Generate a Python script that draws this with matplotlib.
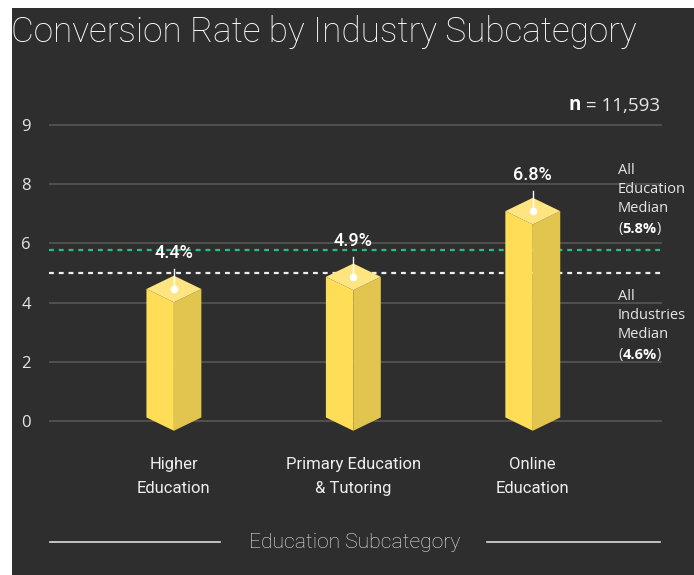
import matplotlib.pyplot as plt
from matplotlib.patches import Polygon, Rectangle
from matplotlib.lines import Line2D

# data
categories = ["Higher\nEducation", "Primary Education\n& Tutoring", "Online\nEducation"]
bar_heights = [4.46, 4.87, 7.09]          # drawn heights (as they appear)
bar_labels = ["4.4%", "4.9%", "6.8%"]
edu_median_pos = 5.78
ind_median_pos = 5.0
edu_median_label = "5.8%"
ind_median_label = "4.6%"
y_ticks = [0, 2, 4, 6, 8, 10]
y_tick_labels = ["0", "2", "4", "6", "8", "9"]
n_total = "11,593"

BG = "#2e2e2e"
GRID = "#565656"
TXT = "#e6e6e6"
GREEN = "#22c47c"
LEFT_FACE = "#ffdd57"
RIGHT_FACE = "#e2c54f"
TOP_FACE = "#ffe581"
SANS = "Open Sans"

W, H = 694, 575
fig = plt.figure(figsize=(W / 100, H / 100), dpi=100, facecolor="white")
fig.patches.append(Rectangle((12 / W, 0), 1, (H - 8) / H, transform=fig.transFigure,
                             facecolor=BG, edgecolor="none", zorder=-10))

# axes placed in pixel terms
ax_l, ax_r = 49, 662
ylo, yhi = -0.6, 10.3
px_per_unit = 29.6
y0_px = 421
bot_px = y0_px - px_per_unit * ylo
top_px = y0_px - px_per_unit * yhi
ax = fig.add_axes([ax_l / W, (H - bot_px) / H, (ax_r - ax_l) / W, (bot_px - top_px) / H])
ax.set_facecolor("none")
ax.set_xlim(-0.696, 2.72)
ax.set_ylim(ylo, yhi)
for s in ax.spines.values():
    s.set_visible(False)
ax.set_xticks([])
ax.set_yticks(y_ticks)
ax.set_yticklabels(y_tick_labels, fontsize=12, color=TXT, family=SANS)
ax.tick_params(axis="y", length=0, pad=13)
for t in y_ticks:
    ax.axhline(t, color=GRID, lw=1.2, zorder=1)

ax.axhline(edu_median_pos, color=GREEN, lw=1.6, dashes=(2.2, 2.2), zorder=2)
ax.axhline(ind_median_pos, color="#eeeeee", lw=1.6, dashes=(2.2, 2.2), zorder=2)

# isometric bars
w = 0.153
d = 0.45
base = 0.12
for i, v in enumerate(bar_heights):
    c = i
    left = [(c - w, v), (c, v - d), (c, base - d), (c - w, base)]
    right = [(c, v - d), (c + w, v), (c + w, base), (c, base - d)]
    top = [(c - w, v), (c, v + d), (c + w, v), (c, v - d)]
    ax.add_patch(Polygon(left, closed=True, facecolor=LEFT_FACE, edgecolor="none", zorder=3))
    ax.add_patch(Polygon(right, closed=True, facecolor=RIGHT_FACE, edgecolor="none", zorder=3))
    ax.add_patch(Polygon(top, closed=True, facecolor=TOP_FACE, edgecolor="none", zorder=3))
    ax.plot([c, c], [v, v + 0.68], color="white", lw=1, zorder=4)
    ax.plot(c, v, "o", color="white", ms=4.5, zorder=5)
    ax.text(c, v + 1.22, bar_labels[i], ha="center", va="center", fontsize=13,
            color="white", fontweight="medium", family="Roboto", zorder=5)

# category labels
for i, cat in enumerate(categories):
    ax.text(i, -1.22, cat, ha="center", va="top", fontsize=12, color="#eeeeee",
            family="Roboto", linespacing=1.75, clip_on=False)


def chain(prev, s, **kw):
    return ax.annotate(s, xy=(1, 0), xycoords=prev, va="bottom", ha="left",
                       annotation_clip=False, **kw)


# right-side annotations
def median_note(y_top_px, word, val):
    fs = 10.5
    fig.text(618 / W, (H - y_top_px) / H, "All\n" + word + "\nMedian", ha="left",
             va="top", fontsize=fs, color=TXT, family=SANS, linespacing=1.38)
    p = fig.text(618 / W, (H - y_top_px - 69) / H, "(", ha="left", va="baseline",
                 fontsize=fs, color=TXT, family=SANS)
    a = chain(p, val, fontsize=fs, color="white", fontweight="bold", family=SANS)
    chain(a, ")", fontsize=fs, color=TXT, family=SANS)


median_note(163, "Education", edu_median_label)
median_note(289, "Industries", ind_median_label)

# n label
nt = fig.text(569 / W, (H - 110) / H, "n", fontsize=13.5, color="white",
              fontweight="bold", family=SANS, va="baseline")
chain(nt, " = " + n_total, fontsize=13.5, color=TXT, family=SANS)

# title
fig.text(11 / W, (H - 32) / H, "Conversion Rate by Industry Subcategory", fontsize=25.3,
         color="white", family="Roboto", fontweight="light", va="center", ha="left")

# x axis title with rules
fig.text(355 / W, (H - 543) / H, "Education Subcategory", fontsize=15.2, color=TXT,
         family="Roboto", fontweight="light", ha="center", va="center")
for x1, x2 in [(50, 220), (487, 660)]:
    fig.add_artist(Line2D([x1 / W, x2 / W], [(H - 542) / H] * 2, color="#dddddd", lw=1.2))

fig.savefig("out.png", dpi=100, facecolor="white")
